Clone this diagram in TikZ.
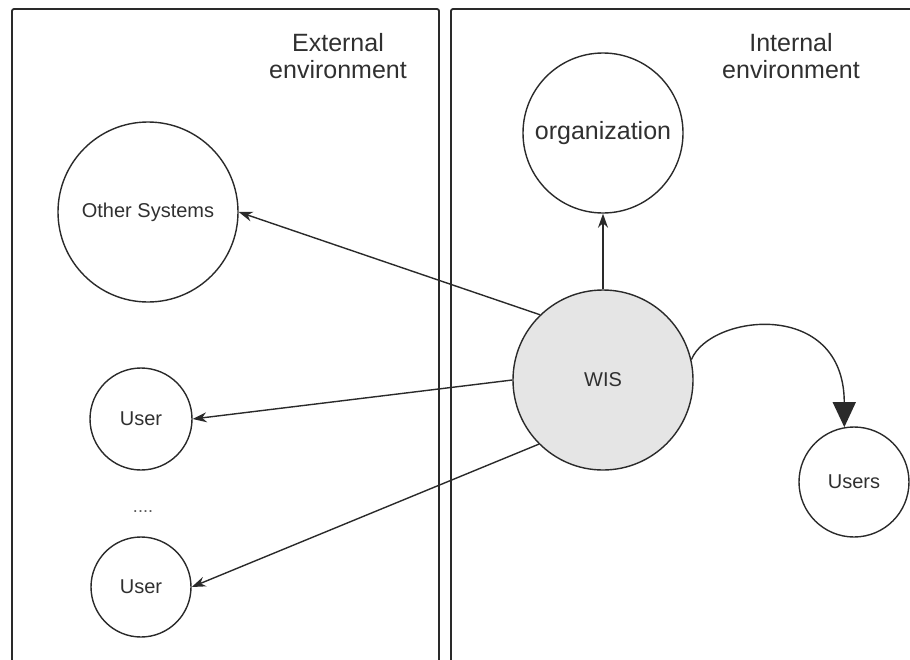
\documentclass[tikz,border=0pt]{standalone}
\usepackage{fontspec}
\setmainfont{Liberation Sans}
\usetikzlibrary{arrows.meta}
\definecolor{ln}{HTML}{2A2A2A}
\definecolor{txt}{HTML}{303030}
\begin{document}
\begin{tikzpicture}[x=1pt,y=-1pt,
  panel/.style={draw=ln,line width=1.8pt,rounded corners=2pt},
  circ/.style={circle,draw=ln,line width=1.4pt,inner sep=0pt,text=txt,font=\fontsize{20}{24}\selectfont},
  hdr/.style={align=center,text=txt,font=\fontsize{25}{27}\selectfont},
  conn/.style={draw=ln,line width=1.4pt,-{Stealth[length=14pt,width=10pt]}},
  bigconn/.style={draw=ln,line width=1.4pt,-{Triangle[length=25pt,width=23pt]}},
]
\useasboundingbox (0,0) rectangle (910,659);
% panels
\draw[panel] (12,665) -- (12,9) -- (439,9) -- (439,665);
\draw[panel] (451,665) -- (451,9) -- (920,9);
% headers
\node[hdr] (ext) at (338,56) {External\\environment};
\node[hdr] (int) at (791,56) {Internal\\environment};
% circles
\node[circ,minimum size=180pt] (oth) at (148,212) {Other Systems};
\node[circ,minimum size=160pt,font=\fontsize{25}{28}\selectfont] (org) at (603,133) {organization};
\node[circ,minimum size=180pt,fill=gray!20] (wis) at (603,380) {WIS};
\node[circ,minimum size=102pt] (u1) at (141,419) {User};
\node[circ,minimum size=100pt] (u2) at (141,587) {User};
\node[circ,minimum size=110pt] (us) at (854,482) {Users};
\node[text=txt!80,font=\fontsize{18}{20}\selectfont] (dots) at (143,512) {....};
% connectors
\draw[conn] (wis.north) -- (org.south);
\draw[conn] (wis.134) -- (oth.east);
\draw[conn] (wis.west) -- (u1.east);
\draw[conn] (wis.225) -- (u2.east);
\draw[bigconn] (wis.13) .. controls (710,314) and (844,298) .. (us.100);
\end{tikzpicture}
\end{document}
